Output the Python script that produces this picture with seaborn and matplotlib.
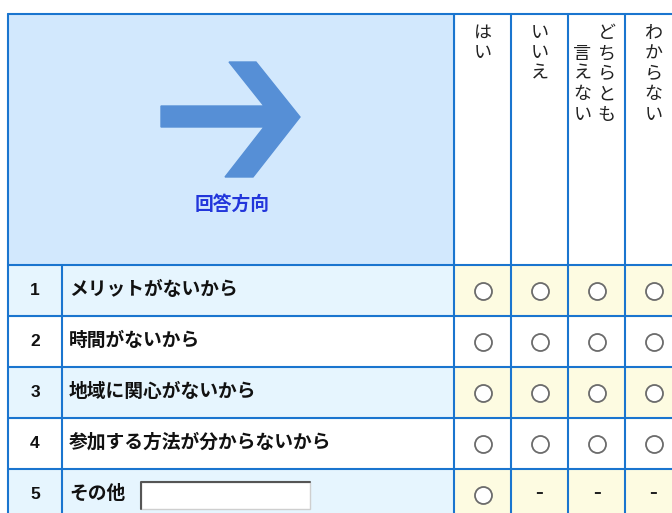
import numpy as np
import pandas as pd
import seaborn as sns
import matplotlib.pyplot as plt
from matplotlib.patches import Rectangle, Polygon

# survey content
row_nums = [1, 2, 3, 4, 5]
row_labels = ["メリットがないから", "時間がないから", "地域に関心がないから",
              "参加する方法が分からないから", "その他"]
option_lines = [["はい"], ["いいえ"], ["どちらとも", "言えない"], ["わからない"]]
has_radio = [[1, 1, 1, 1],
             [1, 1, 1, 1],
             [1, 1, 1, 1],
             [1, 1, 1, 1],
             [1, 0, 0, 0]]
header_text = "回答方向"

# layout (pixels)
W, H = 672, 513
X0, XNUM, XOPT, COLW = 8, 62, 454, 57
Y0, YHEAD, ROWH = 14, 265, 51
BLUE = "#1a75cf"

sns.set_theme(style="white")
plt.rcParams['font.family'] = ['Noto Sans CJK JP', 'DejaVu Sans']

fig = plt.figure(figsize=(W / 100, H / 100), dpi=100)
ax = fig.add_axes([0, 0, 1, 1])
ax.set_xlim(0, W)
ax.set_ylim(H, 0)
ax.axis("off")

n_rows = len(row_labels)
n_opts = len(option_lines)
x_end = XOPT + COLW * n_opts
y_end = YHEAD + ROWH * n_rows

# backgrounds
ax.add_patch(Rectangle((X0, Y0), XOPT - X0, YHEAD - Y0, color="#d2e8fd", zorder=0))
for i in range(n_rows):
    top = YHEAD + i * ROWH
    if i % 2 == 0:
        ax.add_patch(Rectangle((X0, top), XOPT - X0, ROWH, color="#e6f5fe", zorder=0))
        ax.add_patch(Rectangle((XOPT, top), x_end - XOPT, ROWH, color="#fdfbe1", zorder=0))

# grid lines
for y in [Y0] + [YHEAD + i * ROWH for i in range(n_rows)]:
    ax.plot([X0, x_end], [y, y], color=BLUE, lw=1.5, zorder=2)
ax.plot([X0, X0], [Y0, y_end], color=BLUE, lw=1.5, zorder=2)
ax.plot([XNUM, XNUM], [YHEAD, y_end], color=BLUE, lw=1.5, zorder=2)
for j in range(n_opts + 1):
    x = XOPT + j * COLW
    ax.plot([x, x], [Y0, y_end], color=BLUE, lw=1.5, zorder=2)

# arrow
arrow = [(161, 106), (264, 106), (229, 62), (256, 62), (300, 117),
         (253, 177), (225, 177), (264, 127), (161, 127)]
ax.add_patch(Polygon(arrow, closed=True, color="#568fd6", zorder=1))
ax.text(232, 204, header_text, ha="center", va="center", fontsize=13.5,
        fontweight="bold", color="#2236db")

# vertical option headers
pitch = 20.5
for j, lines in enumerate(option_lines):
    cx = XOPT + (j + 0.5) * COLW
    nmax = max(len(s) for s in lines)
    n = len(lines)
    for k, line in enumerate(lines):
        lx = cx + ((n - 1) / 2 - k) * 24 - (2 if n > 1 else 0)
        off = nmax - len(line) if n > 1 else 0
        for m, ch in enumerate(line):
            ax.text(lx, 33 + (off + m) * pitch, ch, ha="center", va="center",
                    fontsize=13, color="#222222")

# row numbers and labels
for i in range(n_rows):
    cy = YHEAD + (i + 0.5) * ROWH
    ax.text((X0 + XNUM) / 2, cy, str(row_nums[i]), ha="center", va="center",
            fontsize=12.5, fontweight="bold", family=['Liberation Sans', 'DejaVu Sans'],
            color="#111111")
    ax.text(69, cy - 1, row_labels[i], ha="left", va="center", fontsize=13.5,
            fontweight="bold", color="#111111")

# text box for "その他"
last_cy = YHEAD + (n_rows - 0.5) * ROWH
ax.add_patch(Rectangle((141, last_cy - 13), 169, 27, facecolor="white",
                       edgecolor="#cfcfcf", lw=1, zorder=3))
ax.plot([141, 141, 310], [last_cy + 14, last_cy - 13, last_cy - 13],
        color="#555555", lw=1.5, zorder=4)

# radio buttons and dashes
cells = pd.DataFrame([(i, j, has_radio[i][j]) for i in range(n_rows) for j in range(n_opts)],
                     columns=["row", "opt", "radio"])
cells["x"] = XOPT + (cells["opt"] + 0.5) * COLW
cells["y"] = YHEAD + (cells["row"] + 0.5) * ROWH
radios = cells[cells["radio"] == 1]
sns.scatterplot(data=radios, x="x", y="y", ax=ax, s=150, marker="o",
                facecolor="white", edgecolor="#6b6b6b", linewidth=1.3,
                zorder=5, legend=False)
for _, r in cells[cells["radio"] == 0].iterrows():
    ax.text(r["x"], r["y"] - 2, "–", ha="center", va="center", fontsize=11,
            fontweight="bold", family=['DejaVu Sans'], color="#222222")

ax.set_xlim(0, W)
ax.set_ylim(H, 0)
ax.set_xlabel("")
ax.set_ylabel("")
fig.savefig("out.png", dpi=100)
